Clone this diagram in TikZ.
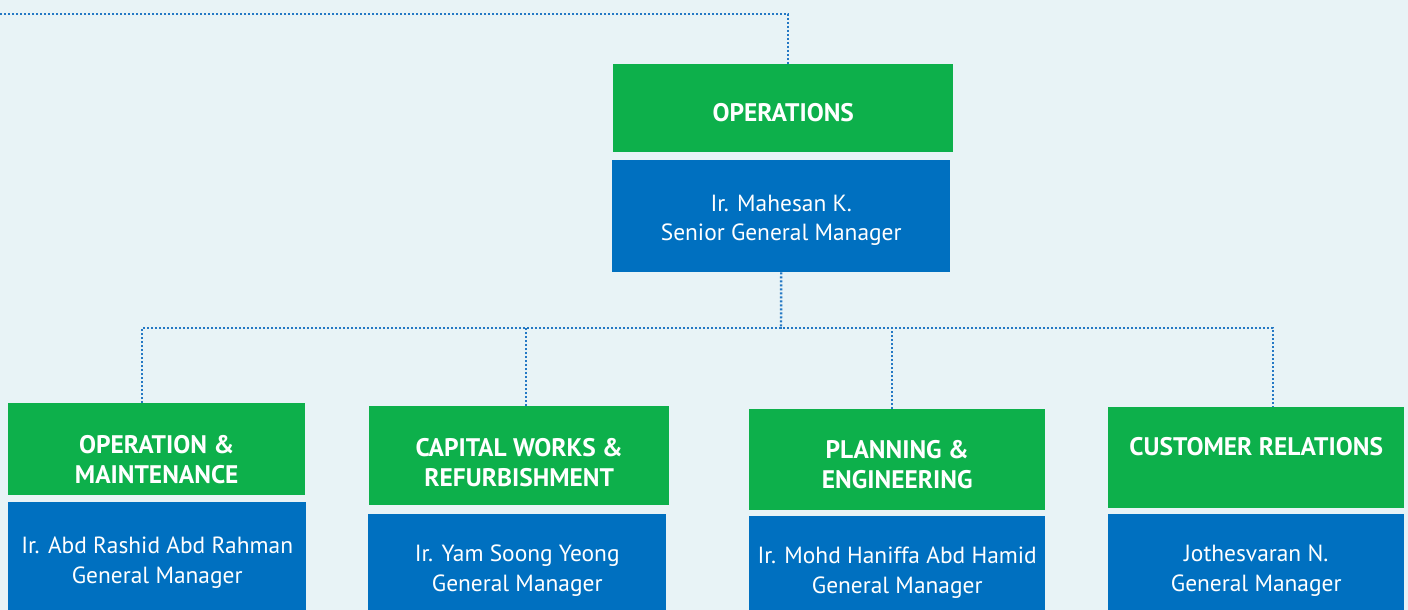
\documentclass[tikz,border=0pt]{standalone}
\usepackage{fontspec}
\setmainfont{PT Sans}
\usetikzlibrary{positioning,calc}

\definecolor{pagebg}{HTML}{E8F3F6}
\definecolor{unitgreen}{HTML}{0DB04B}
\definecolor{unitblue}{HTML}{0070C0}
\definecolor{linkblue}{HTML}{2478C4}

\tikzset{
  unitbox/.style={fill=unitgreen, inner sep=0pt, anchor=north west},
  namebox/.style={fill=unitblue, inner sep=0pt, anchor=north west, text=white,
    align=center, font=\fontsize{23.5}{29.5}\selectfont},
  nametext/.style={text=white, align=center, inner sep=0pt,
    font=\fontsize{23.5}{29.5}\selectfont},
  headtext/.style={text=white, align=center, inner sep=0pt,
    font=\bfseries\fontsize{25.5}{30}\selectfont},
  link/.style={draw=linkblue, line width=2.4bp, dash pattern=on 2bp off 2bp}
}

\begin{document}
\begin{tikzpicture}[x=1bp,y=-1bp]
  \fill[pagebg] (0,0) rectangle (1408,610);
  \useasboundingbox (0,0) rectangle (1408,610);

  % head of the division
  \node[unitbox, minimum width=340bp, minimum height=88bp] (opsHead) at (613,64) {};
  \node[headtext] (opsTitle) at ($(opsHead.center)+(0,4)$) {OPERATIONS};
  \node[namebox, minimum width=338bp, minimum height=112bp] (opsName) at (612,160) {};
  \node[nametext] (opsPerson) at ($(opsName.center)+(0,4)$)
    {Ir. Mahesan K.\\Senior General Manager};

  % departments
  \node[unitbox, minimum width=297bp, minimum height=92bp] (omHead) at (8,403) {};
  \node[headtext] (omTitle) at ($(omHead.north)+(0,56.5)$) {OPERATION \&\\MAINTENANCE};
  \node[namebox, minimum width=298bp, minimum height=121bp] (omName) at (8,502)
    {Ir. Abd Rashid Abd Rahman\\General Manager};

  \node[unitbox, minimum width=300bp, minimum height=99bp] (cwHead) at (369,406) {};
  \node[headtext] (cwTitle) at ($(cwHead.north)+(0,57)$) {CAPITAL WORKS \&\\REFURBISHMENT};
  \node[namebox, minimum width=298bp, minimum height=113bp] (cwName) at (368,514)
    {Ir. Yam Soong Yeong\\General Manager};

  \node[unitbox, minimum width=296bp, minimum height=101bp] (peHead) at (749,409) {};
  \node[headtext] (peTitle) at ($(peHead.north)+(0,56)$) {PLANNING \&\\ENGINEERING};
  \node[namebox, minimum width=296bp, minimum height=113bp] (peName) at (749,516)
    {Ir. Mohd Haniffa Abd Hamid\\General Manager};

  \node[unitbox, minimum width=296bp, minimum height=101bp] (crHead) at (1108,407) {};
  \node[headtext] (crTitle) at ($(crHead.north)+(0,40)$) {CUSTOMER RELATIONS};
  \node[namebox, minimum width=296bp, minimum height=113bp] (crName) at (1108,514)
    {Jothesvaran N.\\General Manager};

  % dotted reporting lines
  \coordinate (feed) at (0,14);
  \coordinate (bus) at (781,328);
  \draw[link] (feed) -| ([xshift=5bp]opsHead.north);
  \draw[link] (opsName.south) -- (bus);
  \draw[link] ([xshift=-14.5bp]omHead.north) |- (bus) -| ([xshift=17bp]crHead.north);
  \draw[link] ([xshift=7bp]cwHead.north) -- ([xshift=7bp]cwHead.north |- bus);
  \draw[link] ([xshift=-5bp]peHead.north) -- ([xshift=-5bp]peHead.north |- bus);
\end{tikzpicture}
\end{document}
